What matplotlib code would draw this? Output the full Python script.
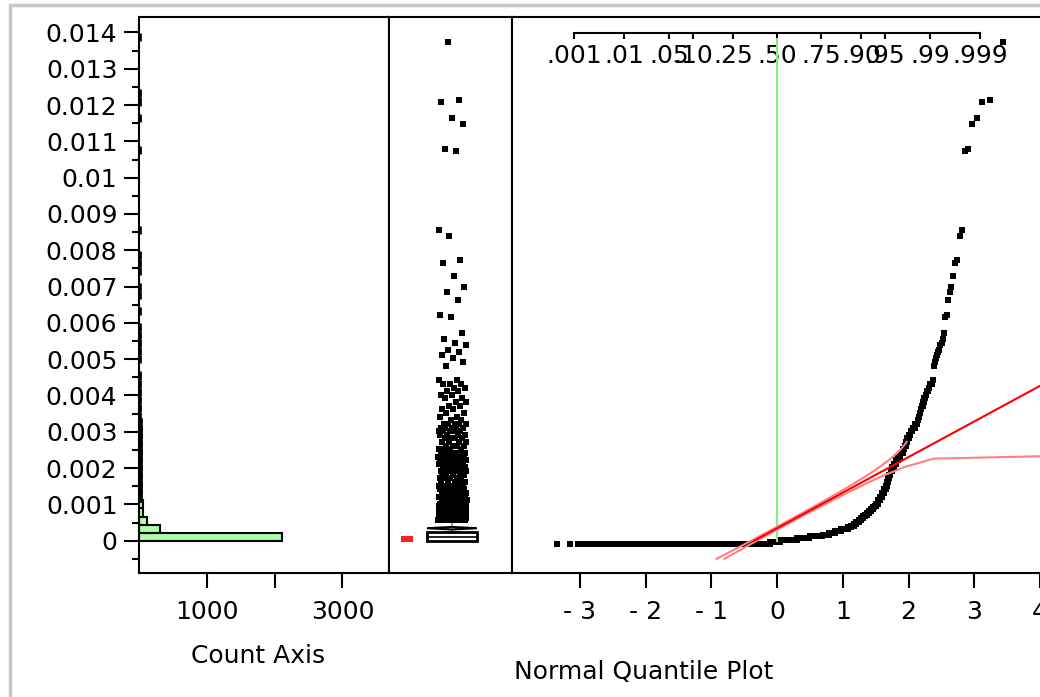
import numpy as np
import matplotlib
matplotlib.use("Agg")
import matplotlib.pyplot as plt
from matplotlib.path import Path
from matplotlib.patches import Rectangle, Polygon
from matplotlib.ticker import MultipleLocator
from statistics import NormalDist

# ---------------------------------------------------------------------------
# Observations, grouped: each distinct value and how many rows carry it
# ---------------------------------------------------------------------------
low_values = [0.0, 0.00005, 0.0001, 0.00015, 0.0002, 0.00025, 0.0003, 0.00035, 0.0004,
              0.00045, 0.0005, 0.00055, 0.0006, 0.00065, 0.0007, 0.00075, 0.0008, 0.00085,
              0.0009, 0.00095, 0.001, 0.00105]
low_counts = [1244, 180, 283, 210, 193, 85, 80, 75, 70,
              30, 27, 22, 20, 16, 19, 17, 15, 14,
              12, 11, 11, 11]

mid_values = [0.0011, 0.0012, 0.0013, 0.0014, 0.0015, 0.0016, 0.0017, 0.0018, 0.0019, 0.0020,
              0.0021, 0.0022, 0.0023, 0.0024, 0.0025, 0.0026, 0.0027, 0.0028, 0.0029, 0.0030,
              0.0031, 0.0032, 0.0033, 0.0034, 0.0035, 0.0036, 0.0037, 0.0038, 0.0039, 0.0040,
              0.0041, 0.0042, 0.0043, 0.0044, 0.0045, 0.0046, 0.0047, 0.0048, 0.0049, 0.0050]
mid_counts = [12, 11, 10, 9, 8, 7, 5, 5, 5, 7,
              7, 7, 8, 8, 8, 4, 4, 4, 4, 4,
              5, 5, 5, 2, 2, 2, 2, 2, 2, 2,
              2, 2, 2, 3, 2, 0, 0, 0, 1, 1]

# the largest single observations
tail_values = [0.00512, 0.00520, 0.00529, 0.00534, 0.00547, 0.00553, 0.00563, 0.00580,
               0.00625, 0.00629, 0.00671, 0.00693, 0.00707, 0.00737, 0.00773, 0.00781,
               0.00848, 0.00864, 0.01082, 0.01086, 0.01157, 0.01173, 0.01216, 0.01221,
               0.01382]

hist_bin_width = 0.000222

value_ticks = [0.0, 0.001, 0.002, 0.003, 0.004, 0.005, 0.006, 0.007,
               0.008, 0.009, 0.010, 0.011, 0.012, 0.013, 0.014]
count_ticks = [1000, 2000, 3000]
count_tick_labels = ["1000", "", "3000"]
quantile_ticks = [-3, -2, -1, 0, 1, 2, 3, 4]
quantile_tick_labels = ["- 3", "- 2", "- 1", "0", "1", "2", "3", "4"]
prob_ticks = [0.001, 0.01, 0.05, 0.10, 0.25, 0.50, 0.75, 0.90, 0.95, 0.99, 0.999]
prob_tick_labels = [".001", ".01", ".05", ".10", ".25", ".50", ".75", ".90", ".95", ".99", ".999"]

# ---------------------------------------------------------------------------
plt.rcParams["font.family"] = ["DejaVu Sans"]
plt.rcParams["font.size"] = 18

values = np.sort(np.concatenate([np.repeat(low_values, low_counts),
                                 np.repeat(mid_values, mid_counts),
                                 np.array(tail_values)]))
n = values.size
nd = NormalDist()

W, H = 1040.0, 697.0
Y_LIM = (-0.00089, 0.014427)
LW = 1.5
GREEN_FILL = "#aaffaa"


def panel(x0, x1, top=17, bottom=573):
    return [x0 / W, (H - bottom) / H, (x1 - x0) / W, (bottom - top) / H]


fig = plt.figure(figsize=(W / 100, H / 100), dpi=100)
fig.patch.set_facecolor("white")

ax_hist = fig.add_axes(panel(139, 389))
ax_box = fig.add_axes(panel(389, 512))
ax_qq = fig.add_axes(panel(512, 1055))

for ax in (ax_hist, ax_box, ax_qq):
    ax.set_ylim(*Y_LIM)
    for sp in ax.spines.values():
        sp.set_linewidth(LW)
        sp.set_color("black")

# square marker anchored at its top-left corner
corner_square = Path([(0, 0), (2, 0), (2, -2), (0, -2), (0, 0)],
                     [Path.MOVETO, Path.LINETO, Path.LINETO, Path.LINETO, Path.CLOSEPOLY])
MS = 8.6

# ---------------------------- histogram ------------------------------------
edges = np.arange(0.0, values.max() + hist_bin_width, hist_bin_width)
bin_counts, _ = np.histogram(values, bins=edges)
filled = bin_counts > 0
shown = bin_counts[filled]
# very short bars get a heavier outline so they stay visible along the axis
edge_widths = np.where(shown < 45, 3.4, LW)
ax_hist.barh(edges[:-1][filled], shown, height=hist_bin_width, align="edge",
             color=GREEN_FILL, edgecolor="black", linewidth=edge_widths, zorder=2)
ax_hist.set_xlim(0, 3687)
ax_hist.set_xticks(count_ticks, labels=count_tick_labels)
ax_hist.set_yticks(value_ticks, labels=[f"{v:g}" for v in value_ticks])
ax_hist.yaxis.set_minor_locator(MultipleLocator(0.0005))
ax_hist.tick_params(axis="both", which="major", direction="out", width=LW, length=10.5,
                    labelsize=18, colors="black")
ax_hist.tick_params(axis="y", which="major", pad=5)
ax_hist.tick_params(axis="x", which="major", pad=9)
ax_hist.tick_params(axis="y", which="minor", direction="out", width=LW, length=5)
ax_hist.set_xlabel("Count Axis", va="center")
ax_hist.xaxis.set_label_coords(0.476, (573 - 656) / 556)

# ---------------------------- outlier box plot -----------------------------
ax_box.set_xlim(0, 1)
ax_box.set_xticks([])
ax_box.set_yticks([])

q1, med, q3 = np.percentile(values, [25, 50, 75])
iqr = q3 - q1
hi_fence, lo_fence = q3 + 1.5 * iqr, q1 - 1.5 * iqr
whisk_hi = values[values <= hi_fence].max()
whisk_lo = values[values >= lo_fence].min()
outliers = values[(values > hi_fence) | (values < lo_fence)]
mean, sd = values.mean(), values.std(ddof=1)
ci = 1.96 * sd / np.sqrt(n)

bx0, bx1 = 0.309, 0.715
bxc = 0.5 * (bx0 + bx1)
ax_box.plot([bxc, bxc], [q3, whisk_hi], color="#8c8c8c", lw=1.2, zorder=2)
ax_box.plot([bxc, bxc], [whisk_lo, q1], color="#8c8c8c", lw=1.2, zorder=2)
ax_box.add_patch(Rectangle((bx0, q1), bx1 - bx0, q3 - q1, facecolor="white",
                           edgecolor="black", linewidth=2.0, zorder=3))
ax_box.plot([bx0, bx1], [med, med], color="black", lw=1.2, zorder=4)
ax_box.add_patch(Polygon([(bx0, mean), (bxc, mean + ci), (bx1, mean), (bxc, mean - ci)],
                         closed=True, facecolor="none", edgecolor="black", linewidth=1.5,
                         zorder=4))

# jittered outliers (golden-ratio spread, deterministic)
jit = ((np.arange(outliers.size) * 0.6180339887) % 1.0 - 0.5) * 0.23
ax_box.plot(bxc + jit - 0.02, outliers, linestyle="none", marker=corner_square, ms=MS,
            mfc="black", mec="none", mew=0, zorder=5)

# shortest half bracket
half = n // 2
widths = values[half:] - values[:n - half]
i_sh = int(np.argmin(widths))
sh_lo, sh_hi = values[i_sh], values[i_sh + half]
ax_box.add_patch(Rectangle((0.106, sh_lo), 0.081, sh_hi - sh_lo, facecolor="#ff2020",
                           edgecolor="#ff2020", linewidth=1.5, zorder=4))

# ---------------------------- normal quantile plot -------------------------
ax_qq.set_xlim(-4.033, 4.228)
ax_qq.set_yticks([])
ax_qq.set_xticks(quantile_ticks, labels=quantile_tick_labels)
ax_qq.tick_params(axis="x", which="major", direction="out", width=LW, length=10.5,
                  labelsize=18, pad=9, colors="black")
ax_qq.set_xlabel("Normal Quantile Plot", ha="left", va="center")
ax_qq.xaxis.set_label_coords((514 - 512) / 543, (573 - 672) / 556)

z_scores = np.array([nd.inv_cdf(r / (n + 1)) for r in range(1, n + 1)])
ax_qq.plot(z_scores, values, linestyle="none", marker=corner_square, ms=MS,
           mfc="black", mec="none", mew=0, zorder=3)

# median reference line
ax_qq.plot([0, 0], [values.min(), values.max()], color="#80f080", lw=1.5, zorder=4)

# normal fit line
z_line = np.array([(values.min() - mean) / sd, (values.max() - mean) / sd])
ax_qq.plot(z_line, mean + sd * z_line, color="#ff0000", lw=1.5, zorder=6)

# Lilliefors confidence bounds
d_crit = 0.886 / np.sqrt(n)
band_levels = np.arange(-0.0005, 0.0028, 0.00023)
u = (band_levels - mean) / sd
p_eps = 1e-15
left_z = [nd.inv_cdf(min(max(nd.cdf(v) - d_crit, p_eps), 1 - p_eps)) for v in u]
right_z = [nd.inv_cdf(min(max(nd.cdf(v) + d_crit, p_eps), 1 - p_eps)) for v in u]
ax_qq.plot(left_z, band_levels, color="#ff8080", lw=1.5, zorder=5)
ax_qq.plot(right_z, band_levels, color="#ff8080", lw=1.5, zorder=5)

# probability scale inside the top of the plot
cdf_vec = np.vectorize(nd.cdf, otypes=[float])
inv_vec = np.vectorize(nd.inv_cdf, otypes=[float])


def z_to_p(z):
    return cdf_vec(np.asarray(z, dtype=float))


def p_to_z(p):
    return inv_vec(np.clip(np.asarray(p, dtype=float), 1e-12, 1 - 1e-12))


sec = ax_qq.secondary_xaxis((573 - 32.8) / 556, functions=(z_to_p, p_to_z))
sec.set_alignment("bottom")
sec.set_xticks(prob_ticks, labels=prob_tick_labels)
sec.tick_params(axis="x", direction="out", width=LW, length=4, pad=4, labelsize=18,
                colors="black")
sec.spines["bottom"].set_linewidth(LW)
sec.spines["bottom"].set_bounds(prob_ticks[0], prob_ticks[-1])

# outer report frame
fig.add_artist(Rectangle((9.5 / W, -0.1), 1.2, (H - 5) / H + 0.1, transform=fig.transFigure,
                         facecolor="none", edgecolor="#c6c6c6", linewidth=2.5))

fig.savefig("out.png", dpi=100, facecolor="white")
